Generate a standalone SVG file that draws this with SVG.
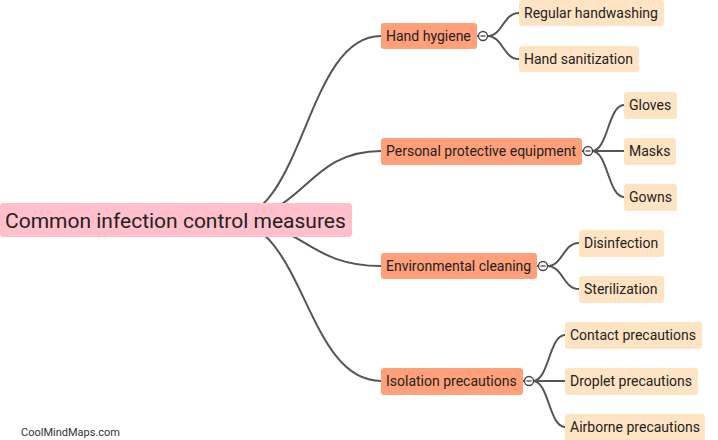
<svg xmlns="http://www.w3.org/2000/svg" width="718" height="440" viewBox="0 0 718 440">
<style>
.e{fill:none;stroke:#555;stroke-width:2}
.root{fill:#FFC0CB}
.l1{fill:#FFA07A}
.l2{fill:#FFE4C4}
text{font-family:Roboto,"Liberation Sans",sans-serif;fill:#222}
.t1{font-size:14px}
.t0{font-size:21px}
.tog{fill:#fff;stroke:#444;stroke-width:1.3}
.m{stroke:#444;stroke-width:1.3}
</style>
<rect width="718" height="440" fill="#fff"/>
<g id="connectors">
<path class="e" d="M228 220 C305 220 305 36 381 36"/>
<path class="e" d="M228 220 C305 220 305 151 381 151"/>
<path class="e" d="M228 220 C305 220 305 266 381 266"/>
<path class="e" d="M228 220 C305 220 305 381 381 381"/>
<path class="e" d="M477 36 H479"/>
<path class="e" d="M487 36 C503 36 503 13 519 13"/>
<path class="e" d="M487 36 C503 36 503 59 519 59"/>
<path class="e" d="M582 151 H584"/>
<path class="e" d="M592 151 C608 151 608 105 624 105"/>
<path class="e" d="M592 151 H624"/>
<path class="e" d="M592 151 C608 151 608 197 624 197"/>
<path class="e" d="M537 266 H539"/>
<path class="e" d="M547 266 C563 266 563 243 579 243"/>
<path class="e" d="M547 266 C563 266 563 289 579 289"/>
<path class="e" d="M523 381 H525"/>
<path class="e" d="M533 381 C549 381 549 335 565 335"/>
<path class="e" d="M533 381 H565"/>
<path class="e" d="M533 381 C549 381 549 427 565 427"/>
</g>
<g id="root">
<rect class="root" x="0" y="203" width="352" height="34" rx="3"/>
<text class="t0" x="5" y="227.5">Common infection control measures</text>
</g>
<g id="hand-hygiene">
<rect class="l1" x="381" y="23" width="96" height="26" rx="3"/>
<text class="t1" x="386" y="41">Hand hygiene</text>
<circle class="tog" cx="483" cy="36" r="4.5"/><path class="m" d="M480.5 36 H485.5"/>
</g>
<g id="regular-handwashing">
<rect class="l2" x="519" y="0" width="145" height="26" rx="3"/>
<text class="t1" x="524" y="18">Regular handwashing</text>
</g>
<g id="hand-sanitization">
<rect class="l2" x="519" y="46" width="120" height="26" rx="3"/>
<text class="t1" x="524" y="64">Hand sanitization</text>
</g>
<g id="ppe">
<rect class="l1" x="381" y="138" width="201" height="27" rx="3"/>
<text class="t1" x="386" y="156">Personal protective equipment</text>
<circle class="tog" cx="588" cy="151" r="4.5"/><path class="m" d="M585.5 151 H590.5"/>
</g>
<g id="gloves">
<rect class="l2" x="624" y="92" width="53" height="27" rx="3"/>
<text class="t1" x="629" y="110">Gloves</text>
</g>
<g id="masks">
<rect class="l2" x="624" y="138" width="52" height="27" rx="3"/>
<text class="t1" x="629" y="156">Masks</text>
</g>
<g id="gowns">
<rect class="l2" x="624" y="184" width="53" height="27" rx="3"/>
<text class="t1" x="629" y="202">Gowns</text>
</g>
<g id="environmental-cleaning">
<rect class="l1" x="381" y="253" width="156" height="26" rx="3"/>
<text class="t1" x="386" y="271">Environmental cleaning</text>
<circle class="tog" cx="543" cy="266" r="4.5"/><path class="m" d="M540.5 266 H545.5"/>
</g>
<g id="disinfection">
<rect class="l2" x="579" y="230" width="85" height="27" rx="3"/>
<text class="t1" x="584" y="248">Disinfection</text>
</g>
<g id="sterilization">
<rect class="l2" x="579" y="276" width="85" height="27" rx="3"/>
<text class="t1" x="584" y="294">Sterilization</text>
</g>
<g id="isolation-precautions">
<rect class="l1" x="381" y="368" width="142" height="27" rx="3"/>
<text class="t1" x="386" y="386">Isolation precautions</text>
<circle class="tog" cx="529" cy="381" r="4.5"/><path class="m" d="M526.5 381 H531.5"/>
</g>
<g id="contact-precautions">
<rect class="l2" x="565" y="322" width="137" height="27" rx="3"/>
<text class="t1" x="570" y="340">Contact precautions</text>
</g>
<g id="droplet-precautions">
<rect class="l2" x="565" y="368" width="133" height="27" rx="3"/>
<text class="t1" x="570" y="386">Droplet precautions</text>
</g>
<g id="airborne-precautions">
<rect class="l2" x="565" y="414" width="140" height="27" rx="3"/>
<text class="t1" x="570" y="432">Airborne precautions</text>
</g>
<text x="21" y="436" style="font-size:11px;fill:#333">CoolMindMaps.com</text>
</svg>
